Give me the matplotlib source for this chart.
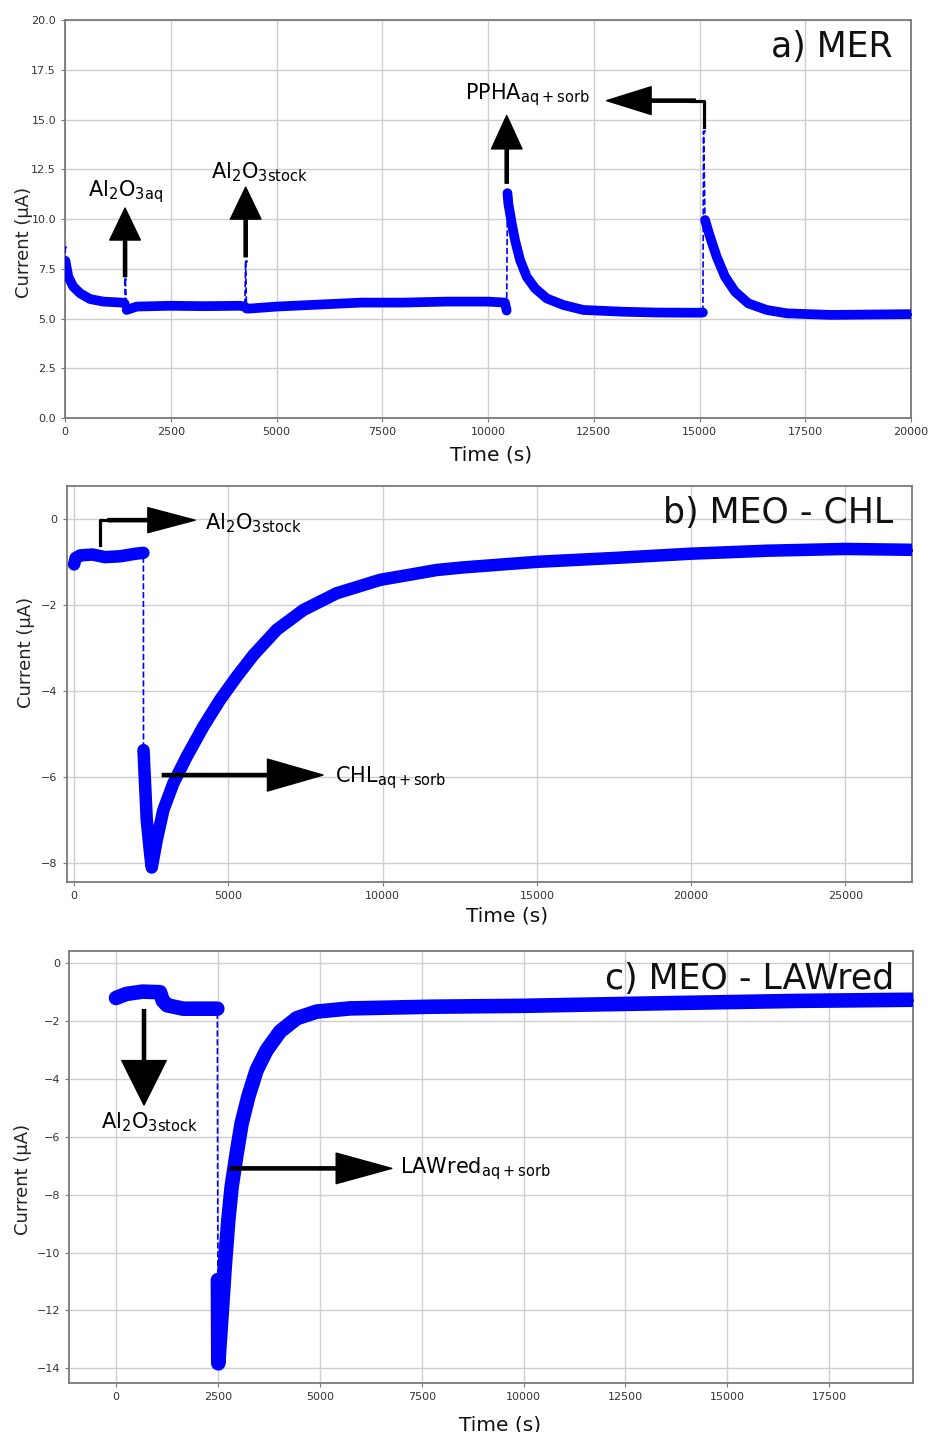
import matplotlib
matplotlib.use("Agg")
import matplotlib.pyplot as plt
import numpy as np

plt.rcParams['font.family'] = ['DejaVu Sans']
plt.rcParams['mathtext.default'] = 'regular'

BLUE = '#0000ff'

# ---- panel a) MER : segments of the trace (single points are short spikes)
a_time = [
    [0],
    [10, 78, 196, 355, 591, 905, 1340, 1410],
    [1425],
    [1458, 1694, 2482, 3300, 4137, 4250],
    [4270],
    [4290, 4373, 5000, 6000, 7000, 8000, 9000, 10000, 10400, 10440],
    [10460, 10480, 10560, 10638, 10757, 10914, 11111, 11387, 11780, 12253,
     13199, 14000, 14933, 15080],
    [15095],
    [15130, 15248, 15406, 15603, 15839, 16154, 16588, 17061, 18100, 19000, 20000],
]
a_current = [
    [8.6],
    [7.9, 7.1, 6.6, 6.27, 5.98, 5.85, 5.8, 5.75],
    [7.0],
    [5.43, 5.6, 5.64, 5.62, 5.64, 5.6],
    [7.9],
    [5.5, 5.5, 5.6, 5.7, 5.8, 5.8, 5.85, 5.85, 5.8, 5.4],
    [11.3, 10.79, 9.78, 8.94, 7.94, 7.1, 6.52, 6.01, 5.68, 5.43,
     5.34, 5.3, 5.29, 5.3],
    [14.4],
    [9.95, 9.11, 8.1, 7.1, 6.35, 5.76, 5.43, 5.26, 5.18, 5.2, 5.22],
]

# ---- panel b) MEO - CHL
b_time = [
    [0, 50, 200, 600, 1000, 1500, 2000, 2246],
    [2250, 2355, 2463, 2517, 2680, 2895, 3218, 3651, 4191, 4731, 5272, 5810,
     6568, 7431, 8513, 9916, 11752, 12600, 15000, 17500, 20000, 22500, 25000, 27150],
]
b_current = [
    [-1.05, -0.9, -0.84, -0.82, -0.88, -0.86, -0.8, -0.78],
    [-5.37, -6.99, -7.77, -8.1, -7.46, -6.76, -6.14, -5.52, -4.82, -4.2, -3.66, -3.16,
     -2.57, -2.11, -1.72, -1.41, -1.18, -1.12, -0.99, -0.9, -0.8, -0.73, -0.69, -0.71],
]

# ---- panel c) MEO - LAWred
c_time = [
    [0, 250, 650, 1080, 1150, 1250, 1650, 2486],
    [2500, 2510, 2593, 2674, 2756, 2838, 2961, 3083, 3246, 3451, 3697, 4024,
     4433, 4924, 5741, 7785, 10000, 12650, 16740, 19560],
]
c_current = [
    [-1.2, -1.06, -0.98, -1.0, -1.3, -1.45, -1.57, -1.57],
    [-10.95, -13.83, -12.1, -10.37, -8.87, -7.72, -6.57, -5.53, -4.61, -3.69, -3.0, -2.36,
     -1.9, -1.67, -1.56, -1.5, -1.47, -1.4, -1.3, -1.26],
]


def draw_trace(ax, seg_t, seg_i, lw):
    # thin dashed line through everything (shows at the jumps)
    ax.plot(np.concatenate(seg_t), np.concatenate(seg_i), ls='--', lw=1.2,
            color=BLUE, marker='.', ms=2, zorder=3)
    for t, i in zip(seg_t, seg_i):
        if len(t) > 1:
            ax.plot(t, i, color=BLUE, lw=lw, solid_capstyle='round',
                    solid_joinstyle='round', zorder=4)


def arrow(ax, tail, tip, hw, hl, w=2.3):
    ax.annotate('', xy=tip, xytext=tail,
                arrowprops=dict(facecolor='black', edgecolor='black', width=w,
                                headwidth=hw, headlength=hl, shrink=0),
                zorder=6)


def style(ax, title, xlim, ylim, xticks, yticks, ylab_xy, xlab_xy):
    ax.set_xlim(*xlim)
    ax.set_ylim(*ylim)
    ax.set_xticks(xticks)
    ax.set_yticks(yticks)
    ax.grid(True, color='#cfcfcf', lw=1.0, zorder=0)
    ax.set_axisbelow(True)
    for s in ax.spines.values():
        s.set_color('#7a7a7a')
        s.set_linewidth(1.3)
    ax.tick_params(labelsize=8, colors='#7a7a7a', labelcolor='#333333', length=3)
    ax.set_ylabel('Current (µA)', fontsize=13, color='#222222')
    ax.set_xlabel('Time (s)', fontsize=14.5, color='#111111')
    ax.yaxis.set_label_coords(*ylab_xy)
    ax.xaxis.set_label_coords(*xlab_xy)
    ax.text(0.978, 0.975, title, transform=ax.transAxes, ha='right', va='top',
            fontsize=25, color='#111111', zorder=7)


fig = plt.figure(figsize=(9.3, 14.32), dpi=100)
ax_a = fig.add_axes([0.0699, 0.7081, 0.9097, 0.2779])
ax_b = fig.add_axes([0.0717, 0.3843, 0.9086, 0.2763])
ax_c = fig.add_axes([0.0742, 0.0344, 0.9078, 0.3015])

# panel a
draw_trace(ax_a, a_time, a_current, 7)
style(ax_a, 'a) MER', (0, 20000), (0, 20), np.arange(0, 20001, 2500),
      np.arange(0, 20.1, 2.5), (-0.038, 0.44), (0.5035, -0.068))
arrow(ax_a, (1420, 7.1), (1420, 10.55), 22, 23)
ax_a.text(1418, 10.7, r'Al$_2$O$_{3aq}$', ha='center', va='bottom', fontsize=15)
arrow(ax_a, (4271, 8.1), (4271, 11.6), 22, 23)
ax_a.text(4586, 11.75, r'Al$_2$O$_{3stock}$', ha='center', va='bottom', fontsize=15)
arrow(ax_a, (10442, 11.8), (10442, 15.2), 22, 24)
ax_a.text(10922, 15.6, r'PPHA$_{aq+sorb}$', ha='center', va='bottom', fontsize=15)
ax_a.plot([15106, 15106, 14800], [14.6, 15.95, 15.95], color='black', lw=2.3, zorder=6)
arrow(ax_a, (14900, 15.95), (12805, 15.95), 20, 32)

# panel b
draw_trace(ax_b, b_time, b_current, 9)
style(ax_b, 'b) MEO - CHL', (-240, 27150), (-8.43, 0.774),
      np.arange(0, 25001, 5000), np.arange(-8, 0.1, 2), (-0.0375, 0.58), (0.521, -0.062))
ax_b.plot([843, 843, 1200], [-0.6, -0.02, -0.02], color='black', lw=2.3, zorder=6)
arrow(ax_b, (1100, -0.02), (3921, -0.02), 18, 34)
ax_b.text(4245, -0.08, r'Al$_2$O$_{3stock}$', ha='left', va='center', fontsize=15)
arrow(ax_b, (2861, -5.95), (8069, -5.95), 23, 40)
ax_b.text(8458, -6.02, r'CHL$_{aq+sorb}$', ha='left', va='center', fontsize=15)

# panel c
draw_trace(ax_c, c_time, c_current, 10.5)
style(ax_c, 'c) MEO - LAWred', (-1153, 19560), (-14.5, 0.425),
      np.arange(0, 17501, 2500), np.arange(-14, 0.1, 2), (-0.044, 0.47), (0.51, -0.075))
arrow(ax_c, (687, -1.6), (687, -4.9), 32, 32)
ax_c.text(810, -5.07, r'Al$_2$O$_{3stock}$', ha='center', va='top', fontsize=15)
arrow(ax_c, (2797, -7.09), (6765, -7.09), 22, 40)
ax_c.text(6967, -7.1, r'LAWred$_{aq+sorb}$', ha='left', va='center', fontsize=15)

fig.savefig('out.png', dpi=100)
